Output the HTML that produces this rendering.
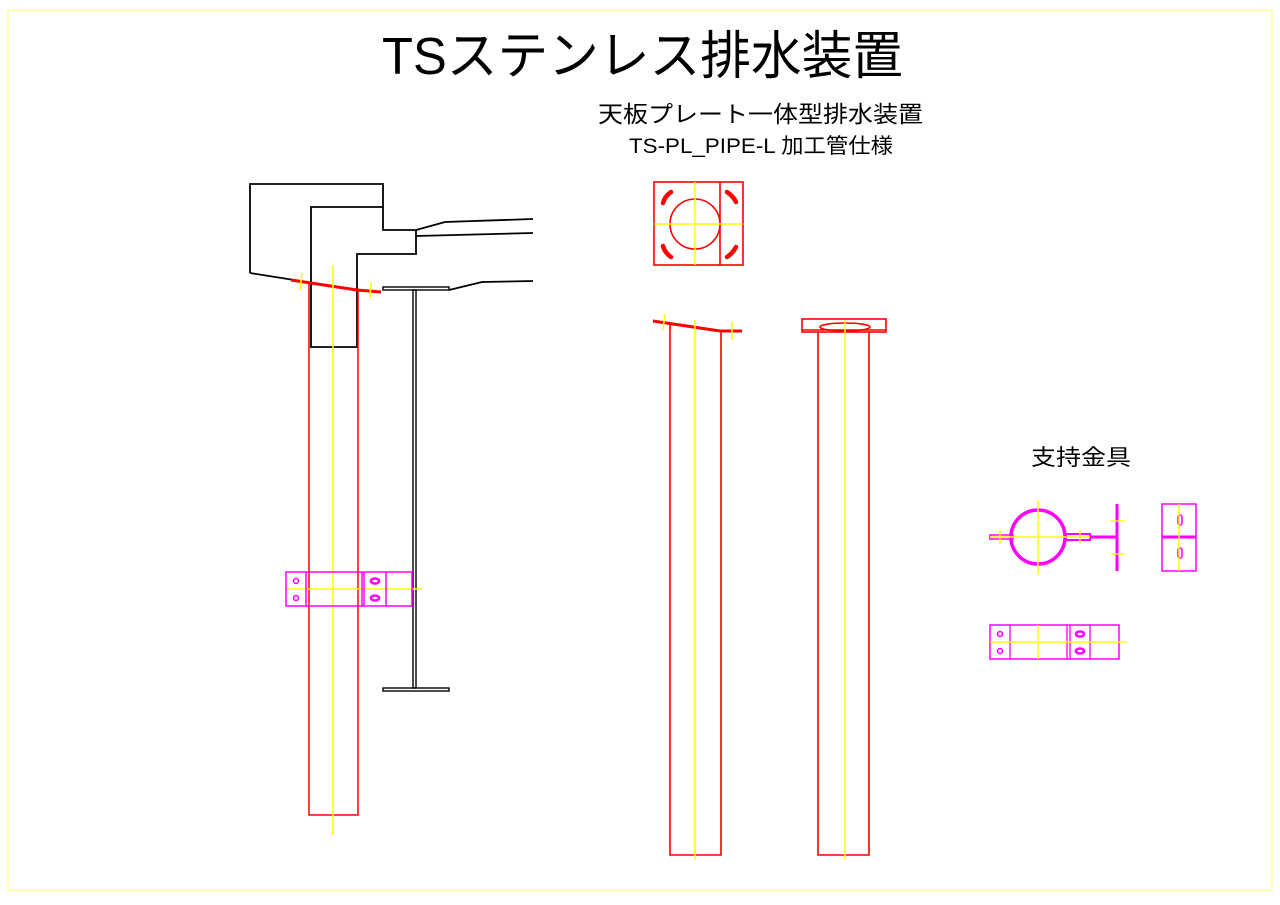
<!DOCTYPE html>
<html><head><meta charset="utf-8"><style>html,body{margin:0;padding:0;background:#fff}svg{display:block}</style></head>
<body>
<svg width="1280" height="905" viewBox="0 0 1280 905" xmlns="http://www.w3.org/2000/svg" font-family="'Liberation Sans','Noto Sans CJK JP',sans-serif">
<rect x="8" y="10" width="1264" height="880" fill="none" stroke="#ffff66" stroke-width="1"/>
<text x="382" y="74" font-size="52" textLength="521" lengthAdjust="spacingAndGlyphs">TSステンレス排水装置</text>
<text x="598" y="122" font-size="23" textLength="325" lengthAdjust="spacingAndGlyphs">天板プレート一体型排水装置</text>
<text x="629" y="153" font-size="21" textLength="264" lengthAdjust="spacingAndGlyphs">TS-PL_PIPE-L 加工管仕様</text>
<text x="1031" y="465" font-size="22" textLength="100" lengthAdjust="spacingAndGlyphs">支持金具</text>

<!-- left drawing -->
<g fill="none" stroke="#000" stroke-width="1.8">
<path d="M250,273 L250,184 L383,184 L383,230 L416,230 L416,254 L357,254 L357,347 L311,347 L311,207 L383,207"/>
<path d="M250,273 L357,290"/>
<path d="M416,230 L445,222 L533,219 M416,236 L533,233"/>
<path d="M449,290 L482,282 L533,281"/>
<rect x="383" y="287" width="66" height="3" stroke-width="1.4"/>
<rect x="413" y="290" width="3" height="398" stroke-width="1.4"/>
<rect x="383" y="688" width="66" height="3" stroke-width="1.4"/>
</g>
<g fill="none" stroke="#f00" stroke-width="1.5">
<path d="M291,280 L357,290 L381,292" stroke-width="3"/>
<path d="M309,283 L309,815 L358,815 L358,291"/>
</g>
<g stroke="#ffff00" stroke-width="1.6">
<line x1="333" y1="265" x2="333" y2="835"/>
<line x1="302" y1="273" x2="300" y2="290"/>
<line x1="371" y1="282" x2="370" y2="298"/>
<line x1="286" y1="589" x2="422" y2="589"/>
</g>
<g fill="none" stroke="#f0f" stroke-width="1.5">
<rect x="286" y="572" width="126" height="34"/>
<line x1="306" y1="572" x2="306" y2="606"/>
<line x1="362" y1="572" x2="362" y2="606"/>
<line x1="364" y1="572" x2="364" y2="606"/>
<line x1="386" y1="572" x2="386" y2="606"/>
<circle cx="296" cy="581" r="2.5"/><circle cx="296" cy="598" r="2.5"/>
<ellipse cx="375" cy="581" rx="4" ry="2.5" stroke-width="2.5"/><ellipse cx="375" cy="598" rx="4" ry="2.5" stroke-width="2.5"/>
</g>

<!-- middle plan -->
<g fill="none" stroke="#f00" stroke-width="1.6">
<rect x="654" y="182" width="89" height="83"/>
<line x1="720" y1="182" x2="720" y2="265"/>
<circle cx="695" cy="224" r="25"/>
<g stroke-width="4.5" stroke-linecap="round">
<path d="M663,203 Q665,196 671,192"/><path d="M727,192 Q733,196 736,202"/>
<path d="M663,246 Q665,253 671,257"/><path d="M727,257 Q733,253 736,247"/>
</g>
</g>
<g stroke="#ffff00" stroke-width="1.4">
<line x1="695" y1="182" x2="695" y2="265"/>
<line x1="654" y1="224" x2="743" y2="224"/>
</g>
<!-- side 1 -->
<g fill="none" stroke="#f00" stroke-width="1.6">
<path d="M653,321 L720,331 L742,331" stroke-width="3"/>
<path d="M670,323 L670,855 L721,855 L721,331"/>
</g>
<g stroke="#ffff00" stroke-width="1.5">
<line x1="695" y1="320" x2="695" y2="860"/>
<line x1="665" y1="314" x2="663" y2="330"/>
<line x1="732" y1="322" x2="732" y2="340"/>
</g>
<!-- side 2 -->
<g fill="none" stroke="#f00" stroke-width="1.6">
<rect x="802" y="319" width="84" height="13"/>
<line x1="802" y1="330" x2="886" y2="330"/>
<ellipse cx="845" cy="327" rx="25" ry="4"/>
<path d="M818,332 L818,855 L869,855 L869,332"/>
</g>
<line x1="845" y1="320" x2="845" y2="860" stroke="#ffff00" stroke-width="1.5"/>

<!-- right clamp -->
<g fill="none" stroke="#f0f">
<circle cx="1038" cy="537" r="27" stroke-width="3.5"/>
<rect x="990" y="535" width="23" height="4" stroke-width="1.5"/>
<rect x="1066" y="534" width="24" height="6" stroke-width="2"/>
<line x1="1090" y1="537" x2="1117" y2="537" stroke-width="3"/>
<line x1="1117" y1="504" x2="1117" y2="571" stroke-width="3"/>
<rect x="1162" y="504" width="34" height="67" stroke-width="1.5"/>
<line x1="1162" y1="537" x2="1196" y2="537" stroke-width="3"/>
<rect x="1178" y="515" width="4" height="10" rx="2" stroke-width="1.5"/>
<rect x="1178" y="548" width="4" height="10" rx="2" stroke-width="1.5"/>
<rect x="990" y="625" width="129" height="34" stroke-width="1.5"/>
<line x1="1010" y1="625" x2="1010" y2="659" stroke-width="1.3"/>
<line x1="1067" y1="625" x2="1067" y2="659" stroke-width="1.3"/>
<line x1="1070" y1="625" x2="1070" y2="659" stroke-width="1.3"/>
<line x1="1090" y1="625" x2="1090" y2="659" stroke-width="1.3"/>
<circle cx="1000" cy="634" r="2.5" stroke-width="1.5"/><circle cx="1000" cy="651" r="2.5" stroke-width="1.5"/>
<ellipse cx="1080" cy="634" rx="4" ry="2.5" stroke-width="2.5"/><ellipse cx="1080" cy="651" rx="4" ry="2.5" stroke-width="2.5"/>
</g>
<g stroke="#ffff00" stroke-width="1.4">
<line x1="1038" y1="500" x2="1038" y2="575"/>
<line x1="990" y1="537" x2="1090" y2="537"/>
<line x1="1000" y1="530" x2="1000" y2="544"/>
<line x1="1080" y1="530" x2="1080" y2="544"/>
<line x1="1111" y1="521" x2="1125" y2="521"/>
<line x1="1111" y1="554" x2="1125" y2="554"/>
<line x1="1179" y1="504" x2="1179" y2="571"/>
<line x1="990" y1="642" x2="1127" y2="642"/>
<line x1="1038" y1="625" x2="1038" y2="659"/>
</g>
</svg>
</body></html>
